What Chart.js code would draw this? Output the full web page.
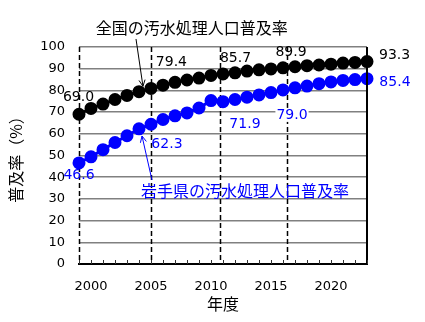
<!DOCTYPE html>
<html>
<head>
<meta charset="utf-8">
<script src="https://cdn.jsdelivr.net/npm/chart.js@4"></script>
<style>
  html, body { margin: 0; padding: 0; background: #fff; }
</style>
</head>
<body>
<canvas id="grafico" width="425" height="322"></canvas>
<script>
// Datos: 汚水処理人口普及率 (%), 年度 1999-2023
const years = [1999, 2000, 2001, 2002, 2003, 2004, 2005, 2006, 2007, 2008, 2009, 2010,
               2011, 2012, 2013, 2014, 2015, 2016, 2017, 2018, 2019, 2020, 2021, 2022, 2023];
const zenkoku = [69.0, 71.7, 73.7, 75.8, 77.7, 79.4, 80.9, 82.4, 83.7, 84.8, 85.7, 86.9,
                 87.6, 88.1, 88.9, 89.5, 89.9, 90.4, 90.9, 91.4, 91.7, 92.1, 92.6, 92.9, 93.3];
const iwate = [46.6, 49.4, 52.7, 56.0, 59.1, 62.3, 64.4, 66.6, 68.3, 69.6, 71.9, 75.3,
               74.8, 75.8, 76.9, 77.9, 79.0, 80.2, 81.2, 82.0, 83.1, 83.9, 84.6, 85.0, 85.4];
const yTicks = [0, 10, 20, 30, 40, 50, 60, 70, 80, 90, 100];
const xTicks = [2000, 2005, 2010, 2015, 2020];
const dashedYears = [1999, 2005, 2010.75, 2016.3];

const NUM_FONT = "'DejaVu Sans', 'Noto Sans CJK JP', sans-serif";
const JP_FONT = "'Noto Sans CJK JP', 'DejaVu Sans', sans-serif";

// Etiquetas de valores (posición en unidades de los ejes)
const etiquetas = [
    { t: '69.0', x: 1998.96, y: 77.0, c: '#000' },
    { t: '79.4', x: 2006.7, y: 93.1, c: '#000' },
    { t: '85.7', x: 2012.04, y: 94.7, c: '#000' },
    { t: '89.9', x: 2016.67, y: 97.5, c: '#000' },
    { t: '93.3', x: 2025.3, y: 96.1, c: '#000' },
    { t: '46.6', x: 1999.0, y: 41.0, c: '#0000ff' },
    { t: '62.3', x: 2006.33, y: 55.3, c: '#0000ff' },
    { t: '71.9', x: 2012.83, y: 64.5, c: '#0000ff' },
    { t: '79.0', x: 2016.75, y: 68.7, c: '#0000ff', bg: true },
    { t: '85.4', x: 2025.33, y: 83.9, c: '#0000ff' }
];
const series = [
    { t: '全国の汚水処理人口普及率', x: 2008.4, y: 108.8, c: '#000',
      flecha: [2003.75, 103.7, 2004.33, 81.9] },
    { t: '岩手県の汚水処理人口普及率', x: 2012.83, y: 33.8, c: '#0000ff',
      flecha: [2005.08, 38.7, 2004.25, 59.0] }
];

const ctx = document.getElementById('grafico').getContext('2d');

function dibujarFlecha(c, x1, y1, x2, y2, color) {
    const ang = Math.atan2(y2 - y1, x2 - x1);
    const L = 7;
    c.save();
    c.strokeStyle = color;
    c.lineWidth = 1;
    c.beginPath();
    c.moveTo(x1, y1);
    c.lineTo(x2, y2);
    c.moveTo(x2 - L * Math.cos(ang - 0.45), y2 - L * Math.sin(ang - 0.45));
    c.lineTo(x2, y2);
    c.lineTo(x2 - L * Math.cos(ang + 0.45), y2 - L * Math.sin(ang + 0.45));
    c.stroke();
    c.restore();
}

const lineasPlugin = {
    id: 'lineasDiscontinuas',
    beforeDatasetsDraw(chart) {
        const c = chart.ctx, xs = chart.scales.x, a = chart.chartArea;
        c.save();
        c.strokeStyle = '#000';
        c.lineWidth = 1.5;
        c.setLineDash([5, 3]);
        dashedYears.forEach(v => {
            const px = Math.round(xs.getPixelForValue(v)) + 0.5;
            c.beginPath();
            c.moveTo(px, a.top);
            c.lineTo(px, a.bottom);
            c.stroke();
        });
        c.restore();
    },
    afterDraw(chart) {
        const c = chart.ctx, xs = chart.scales.x, ys = chart.scales.y, a = chart.chartArea;
        c.save();
        // borde derecho
        c.strokeStyle = '#000';
        c.lineWidth = 2;
        c.beginPath();
        c.moveTo(a.right, a.top);
        c.lineTo(a.right, a.bottom + 1);
        c.stroke();
        // marcas menores en el eje x
        c.strokeStyle = '#333';
        c.lineWidth = 1;
        years.forEach(v => {
            const px = Math.round(xs.getPixelForValue(v)) + 0.5;
            c.beginPath();
            c.moveTo(px, a.bottom);
            c.lineTo(px, a.bottom - 4);
            c.stroke();
        });
        // etiquetas de valores
        c.font = '14px ' + NUM_FONT;
        c.textAlign = 'center';
        c.textBaseline = 'middle';
        etiquetas.forEach(e => {
            const px = xs.getPixelForValue(e.x), py = ys.getPixelForValue(e.y);
            if (e.bg) {
                const w = c.measureText(e.t).width;
                c.fillStyle = '#fff';
                c.fillRect(px - w / 2 - 1, py - 7, w + 2, 14);
            }
            c.fillStyle = e.c;
            c.fillText(e.t, px, py);
        });
        // nombres de las series y flechas
        c.font = '16px ' + JP_FONT;
        series.forEach(s => {
            c.fillStyle = s.c;
            c.fillText(s.t, xs.getPixelForValue(s.x), ys.getPixelForValue(s.y));
            const f = s.flecha;
            dibujarFlecha(c, xs.getPixelForValue(f[0]), ys.getPixelForValue(f[1]),
                xs.getPixelForValue(f[2]), ys.getPixelForValue(f[3]), s.c);
        });
        c.restore();
    }
};

const datos = {
    datasets: [{
        label: '全国',
        data: years.map((y, i) => ({ x: y, y: zenkoku[i] })),
        borderColor: '#000',
        backgroundColor: '#000',
        borderWidth: 3,
        pointRadius: 5,
        pointHoverRadius: 5,
        clip: false
    }, {
        label: '岩手県',
        data: years.map((y, i) => ({ x: y, y: iwate[i] })),
        borderColor: '#0000ff',
        backgroundColor: '#0000ff',
        borderWidth: 3,
        pointRadius: 5,
        pointHoverRadius: 5,
        clip: false
    }]
};

const opciones = {
    responsive: false,
    animation: false,
    devicePixelRatio: 1,
    layout: { padding: { top: 47, right: 58, left: 0, bottom: 0 } },
    plugins: { legend: { display: false }, tooltip: { enabled: false } },
    scales: {
        x: {
            type: 'linear',
            min: years[0],
            max: years[years.length - 1],
            afterFit: s => { s.height = 58; },
            afterBuildTicks: s => { s.ticks = xTicks.map(v => ({ value: v })); },
            ticks: {
                padding: 7,
                color: '#000',
                font: { family: NUM_FONT, size: 13 },
                maxRotation: 0,
                includeBounds: false,
                callback: v => String(v)
            },
            grid: { display: false },
            border: { display: true, color: '#000', width: 2 },
            title: {
                display: true,
                text: '年度',
                color: '#000',
                font: { family: JP_FONT, size: 16 },
                padding: { top: 0, bottom: 8 }
            }
        },
        y: {
            min: 0,
            max: 100,
            afterFit: s => { s.width = 79; },
            afterBuildTicks: s => { s.ticks = yTicks.map(v => ({ value: v })); },
            ticks: {
                padding: 14,
                color: '#000',
                font: { family: NUM_FONT, size: 13 }
            },
            grid: { color: '#808080', lineWidth: 1.5, drawTicks: false },
            border: { display: false },
            title: {
                display: true,
                text: '普及率（%）',
                color: '#000',
                font: { family: JP_FONT, size: 16 },
                padding: { top: 6, bottom: 0 }
            }
        }
    }
};

const miGrafico = new Chart(ctx, {
    type: 'line',
    data: datos,
    options: opciones,
    plugins: [lineasPlugin]
});
</script>
</body>
</html>
